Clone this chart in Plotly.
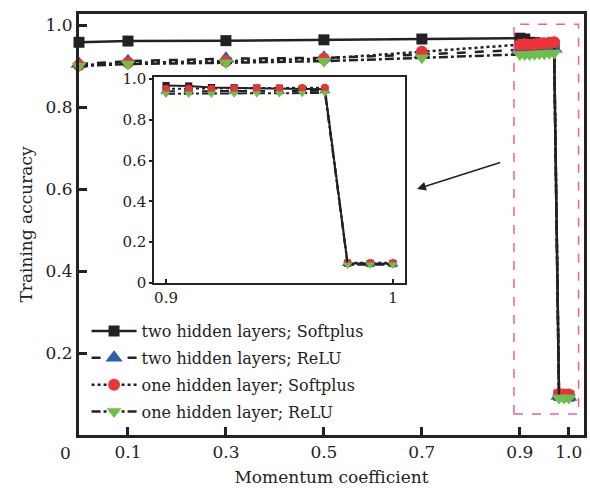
import plotly.graph_objects as go

# ---------------- data ----------------
momentum = [0, 0.1, 0.3, 0.5, 0.7, 0.9, 0.91, 0.92, 0.93, 0.94, 0.95, 0.96, 0.97, 0.98, 0.99, 1.0]

two_softplus = [0.958, 0.961, 0.962, 0.964, 0.966, 0.968, 0.966, 0.958, 0.957, 0.956, 0.955, 0.952, 0.950, 0.097, 0.096, 0.095]
two_relu     = [0.905, 0.912, 0.918, 0.920, 0.928, 0.940, 0.940, 0.939, 0.940, 0.941, 0.940, 0.941, 0.942, 0.095, 0.094, 0.093]
one_softplus = [0.902, 0.908, 0.912, 0.918, 0.935, 0.952, 0.953, 0.952, 0.953, 0.955, 0.955, 0.957, 0.958, 0.100, 0.099, 0.099]
one_relu     = [0.900, 0.905, 0.908, 0.912, 0.920, 0.928, 0.928, 0.928, 0.929, 0.930, 0.930, 0.931, 0.932, 0.090, 0.090, 0.090]

series_names = ["two hidden layers; Softplus", "two hidden layers; ReLU",
                "one hidden layer; Softplus", "one hidden layer; ReLU"]

main_xticks = [0.1, 0.3, 0.5, 0.7, 0.9, 1.0]
main_xticklabels = ["0.1", "0.3", "0.5", "0.7", "0.9", "1.0"]
main_yticks = [0.2, 0.4, 0.6, 0.8, 1.0]
main_yticklabels = ["0.2", "0.4", "0.6", "0.8", "1.0"]
inset_xticks = [0.9, 1.0]
inset_xticklabels = ["0.9", "1"]
inset_yticks = [0, 0.2, 0.4, 0.6, 0.8, 1.0]
inset_yticklabels = ["0", "0.2", "0.4", "0.6", "0.8", "1.0"]

# ---------------- styles ----------------
FONT = "DejaVu Serif"
INK = "#222222"
styles = [
    dict(dash="solid", symbol="square", color="#222222", size=11),
    dict(dash="dash", symbol="triangle-up", color="#2E5CAF", size=15),
    dict(dash="dot", symbol="circle", color="#EC3337", size=12),
    dict(dash="dashdot", symbol="triangle-down", color="#6DBE4A", size=13),
]
all_series = [two_softplus, two_relu, one_softplus, one_relu]

fig = go.Figure()

# main plot traces
for name, ys, st in zip(series_names, all_series, styles):
    fig.add_trace(go.Scatter(
        x=momentum, y=ys, name=name, mode="lines+markers",
        line=dict(color=INK, width=2.5, dash=st["dash"]),
        marker=dict(symbol=st["symbol"], color=st["color"], size=st["size"],
                    line=dict(width=0)),
        cliponaxis=False, legendgroup=name, xaxis="x", yaxis="y",
    ))

# inset traces (only momentum >= 0.9)
for name, ys, st in zip(series_names, all_series, styles):
    xi = [m for m in momentum if m >= 0.9]
    yi = [v for m, v in zip(momentum, ys) if m >= 0.9]
    fig.add_trace(go.Scatter(
        x=xi, y=yi, name=name, mode="lines+markers", showlegend=False,
        line=dict(color=INK, width=2, dash=st["dash"]),
        marker=dict(symbol=st["symbol"], color=st["color"], size=st["size"] * 0.65,
                    line=dict(width=0)),
        cliponaxis=False, xaxis="x2", yaxis="y2",
    ))

fig.update_layout(
    width=590, height=488,
    margin=dict(l=79, r=6, t=14, b=53),
    paper_bgcolor="white", plot_bgcolor="white",
    font=dict(family=FONT, color=INK, size=17),
    xaxis=dict(
        range=[0, 1.031], tickvals=main_xticks, ticktext=main_xticklabels,
        ticks="inside", ticklen=8, tickwidth=2.5, tickcolor=INK,
        showline=True, linewidth=3, linecolor=INK, mirror=True,
        showgrid=False, zeroline=False,
        tickfont=dict(size=17, family=FONT),
        title=dict(text="Momentum coefficient", font=dict(size=17, family=FONT), standoff=10),
        automargin=False,
    ),
    yaxis=dict(
        range=[0, 1.027], tickvals=main_yticks, ticktext=main_yticklabels,
        ticks="inside", ticklen=8, tickwidth=2.5, tickcolor=INK,
        showline=True, linewidth=3, linecolor=INK, mirror=True,
        showgrid=False, zeroline=False,
        tickfont=dict(size=17, family=FONT),
        title=dict(text="Training accuracy", font=dict(size=17, family=FONT), standoff=9),
        automargin=False,
    ),
    xaxis2=dict(
        domain=[0.1485, 0.6455], anchor="y2",
        range=[0.8947, 1.0053], tickvals=inset_xticks, ticktext=inset_xticklabels,
        ticks="inside", ticklen=4, tickwidth=1.5, tickcolor=INK,
        showline=True, linewidth=1.5, linecolor=INK, mirror=True,
        showgrid=False, zeroline=False,
        tickfont=dict(size=15, family=FONT),
    ),
    yaxis2=dict(
        domain=[0.361, 0.8504], anchor="x2",
        range=[0, 1.01], tickvals=inset_yticks, ticktext=inset_yticklabels,
        ticks="outside", ticklen=3, tickwidth=1.5, tickcolor=INK,
        showline=True, linewidth=1.5, linecolor=INK, mirror=True,
        showgrid=False, zeroline=False,
        tickfont=dict(size=15, family=FONT),
    ),
    legend=dict(
        x=0.015, y=0.287, xanchor="left", yanchor="top",
        bgcolor="rgba(0,0,0,0)", font=dict(size=16, family=FONT, color=INK),
        tracegroupgap=3, itemwidth=45,
    ),
    showlegend=True,
)

# pink dashed box marking the zoomed region
fig.add_shape(type="rect", xref="x", yref="y", x0=0.888, x1=1.020, y0=0.051, y1=1.002,
              line=dict(color="#F0609A", width=1.5, dash="dash"), fillcolor="rgba(0,0,0,0)")

# arrow pointing to the inset
fig.add_annotation(x=0.690, y=0.600, ax=0.863, ay=0.666, xref="x", yref="y",
                   axref="x", ayref="y", showarrow=True, arrowhead=2, arrowsize=1.2,
                   arrowwidth=1.5, arrowcolor=INK, text="")

# origin label
fig.add_annotation(x=-0.0277, y=-0.0428, xref="paper", yref="paper", text="0",
                   showarrow=False, font=dict(size=17, family=FONT, color=INK),
                   xanchor="center", yanchor="middle")

fig.write_html("out.html", config={"displayModeBar": False},
               post_script="document.body.style.margin='0';document.body.style.overflow='hidden';")
